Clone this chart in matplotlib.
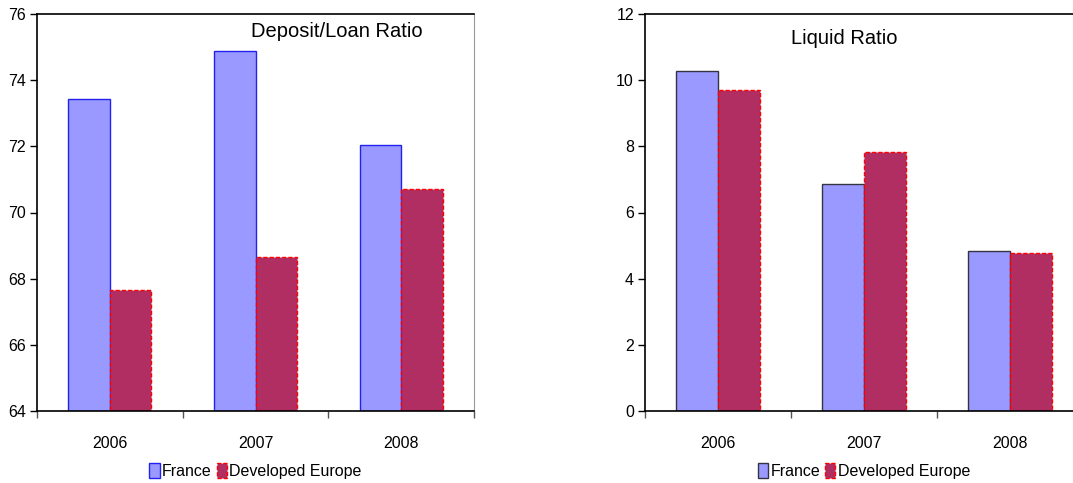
import matplotlib
matplotlib.use('Agg')

import matplotlib.pyplot as plt
import numpy as np

# Datos
years = ['2006', '2007', '2008']
series = ['France', 'Developed Europe']

deposit_france = [73.43, 74.88, 72.05]
deposit_europe = [67.65, 68.65, 70.72]

liquid_france = [10.29, 6.85, 4.84]
liquid_europe = [9.71, 7.84, 4.79]

blue = '#9999FF'
wine = '#B02E62'

plt.rcParams['font.family'] = ['Liberation Sans Narrow', 'Liberation Sans', 'DejaVu Sans']

fig = plt.figure(figsize=(10.73, 4.83), dpi=100)
ax1 = fig.add_axes([37 / 1073, 72 / 483, 437 / 1073, 397 / 483])
ax2 = fig.add_axes([645 / 1073, 72 / 483, 438 / 1073, 397 / 483])


def draw(ax, fr, eu, fr_edge, ylim, yticks, title, tx, ty, right_spine):
    x = np.arange(len(years))
    w = 0.286
    ax.bar(x - w / 2, np.array(fr) - ylim[0], w, bottom=ylim[0],
           color=blue, edgecolor=fr_edge, linewidth=1.0, label=series[0])
    ax.bar(x + w / 2, np.array(eu) - ylim[0], w, bottom=ylim[0],
           color=wine, edgecolor='#FF0000', linewidth=1.0,
           linestyle=(0, (3, 1.5)), label=series[1])
    ax.set_xlim(-0.5, len(years) - 0.5)
    ax.set_ylim(*ylim)
    ax.set_yticks(yticks)
    ax.tick_params(axis='y', direction='out', length=5, width=1, pad=3,
                   labelsize=11.5, color='black')
    ax.set_xticks(np.arange(len(years) + 1) - 0.5)
    ax.set_xticklabels([])
    ax.set_xticks(x, minor=True)
    ax.set_xticklabels(years, minor=True)
    ax.tick_params(axis='x', which='major', direction='out', length=5,
                   width=1, color='#555555')
    ax.tick_params(axis='x', which='minor', length=0, pad=18, labelsize=11.5)
    for s in ['left', 'top', 'bottom']:
        ax.spines[s].set_color('black')
        ax.spines[s].set_linewidth(1.2)
    ax.spines['right'].set_color('#999999')
    ax.spines['right'].set_visible(right_spine)
    ax.text(tx, ty, title, transform=ax.transAxes, ha='center', va='center',
            fontsize=14.5)
    ax.legend(loc='center', bbox_to_anchor=(0.5, -0.151), ncol=2, frameon=False,
              fontsize=11.5, handlelength=0.65, handleheight=1.1,
              handletextpad=0.15, columnspacing=0.3, borderpad=0)


draw(ax1, deposit_france, deposit_europe, '#2222EE', (64, 76),
     [64, 66, 68, 70, 72, 74, 76], 'Deposit/Loan Ratio', 0.686, 0.955, True)
draw(ax2, liquid_france, liquid_europe, '#333344', (0, 12),
     [0, 2, 4, 6, 8, 10, 12], 'Liquid Ratio', 0.454, 0.939, False)

fig.savefig('out.png', dpi=100)
